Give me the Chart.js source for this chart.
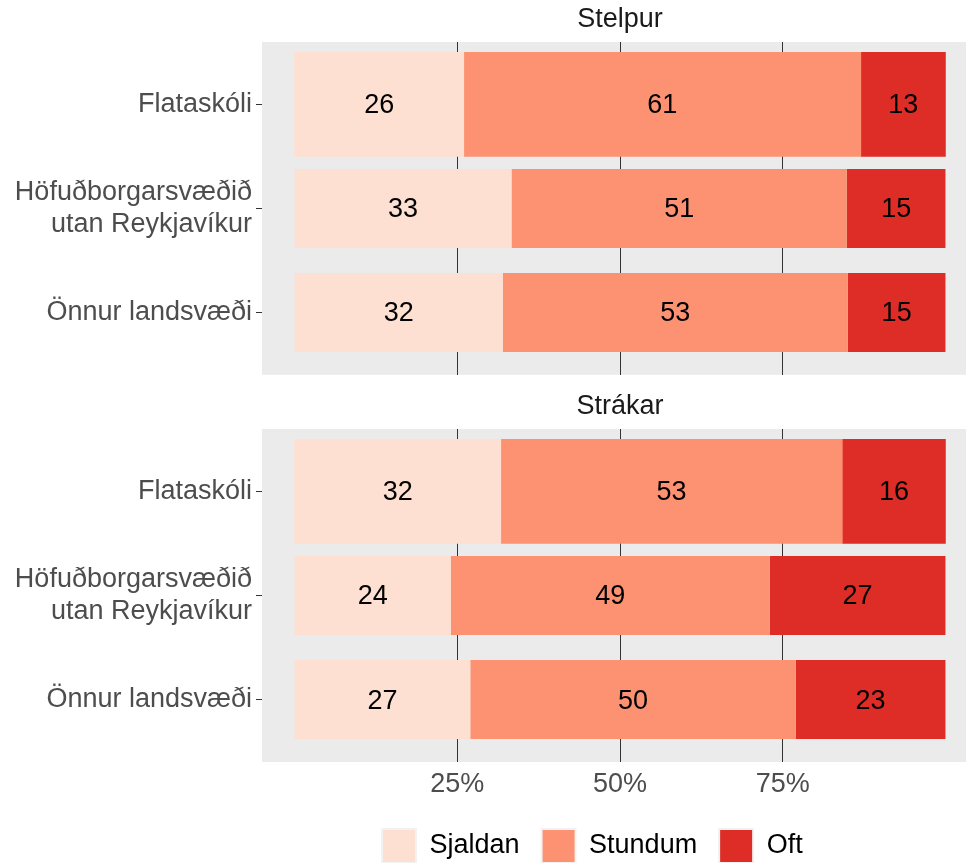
<!DOCTYPE html>
<html>
<head>
<meta charset="utf-8">
<script src="https://cdn.jsdelivr.net/npm/chart.js@4"></script>
<style>
html, body { margin: 0; padding: 0; background: #fff; overflow: hidden; }
#wrap { position: relative; width: 966px; height: 863px; overflow: hidden; }
.panel { position: absolute; left: 0; width: 978px; }
</style>
</head>
<body>
<div id="wrap">
  <!-- the y axis keeps ~20px below its last label, so this canvas runs a bit past the panel -->
  <div class="panel" style="top:0;height:395px"><canvas id="stelpur"></canvas></div>
  <div class="panel" style="top:375px;height:498px"><canvas id="strakar"></canvas></div>
</div>
<script>
const regions = ['Flataskóli', ['Höfuðborgarsvæðið', 'utan Reykjavíkur'], 'Önnur landsvæði'];
const answers = ['Sjaldan', 'Stundum', 'Oft'];
const answerColors = ['#FEE0D2', '#FC9272', '#DE2D26'];
const xTicks = [25, 50, 75];

const stelpurSjaldan = [26, 33, 32];
const stelpurStundum = [61, 51, 53];
const stelpurOft = [13, 15, 15];

const strakarSjaldan = [32, 24, 27];
const strakarStundum = [53, 49, 50];
const strakarOft = [16, 27, 23];

Chart.defaults.font.family = '"Liberation Sans", Arial, sans-serif';
Chart.defaults.font.size = 27;

function buildDatasets(series) {
    // bars are filled to 100%, so each row is divided by its own total
    const totals = regions.map((r, i) => series.reduce((s, a) => s + a[i], 0));
    const sets = [];
    series.forEach((vals, k) => {
        // Flataskóli row is drawn wider than the other two
        [[0], [1, 2]].forEach((rows, g) => {
            sets.push({
                label: answers[k],
                backgroundColor: answerColors[k],
                borderWidth: 0,
                barPercentage: g === 0 ? 1 : 0.76,
                categoryPercentage: 1,
                counts: rows.map(i => vals[i]),
                data: rows.map(i => ({ x: vals[i] / totals[i] * 100, y: i + 1 }))
            });
        });
    });
    return sets;
}

const panelPlugin = {
    id: 'panel',
    beforeDraw(chart, args, opts) {
        const ctx = chart.ctx, a = chart.chartArea;
        ctx.save();
        ctx.fillStyle = '#EBEBEB';
        ctx.fillRect(a.left, a.top, a.right - a.left, a.bottom - a.top);
        ctx.fillStyle = '#1A1A1A';
        ctx.font = '27px "Liberation Sans", Arial, sans-serif';
        ctx.textAlign = 'center';
        ctx.textBaseline = 'middle';
        ctx.fillText(opts.strip, (a.left + a.right) / 2, a.top - 22);
        ctx.restore();
    },
    afterLayout(chart) {
        const lg = chart.legend;
        if (lg && lg.options.display) {
            // push the legend row so it sits where ggplot put it
            lg.left = 2 * 382 - lg.options.labels.padding - lg.right + lg.lineWidths[0];
        }
    },
    afterDatasetsDraw(chart) {
        const ctx = chart.ctx;
        ctx.save();
        ctx.fillStyle = '#000';
        ctx.font = '27px "Liberation Sans", Arial, sans-serif';
        ctx.textAlign = 'center';
        ctx.textBaseline = 'middle';
        chart.data.datasets.forEach((ds, i) => {
            chart.getDatasetMeta(i).data.forEach((bar, j) => {
                const p = bar.getProps(['x', 'y', 'base'], true);
                ctx.fillText(String(ds.counts[j]), (p.x + p.base) / 2, p.y + 1.5);
            });
        });
        ctx.restore();
    }
};

function makeChart(id, strip, series, bottom) {
    return new Chart(document.getElementById(id), {
        type: 'bar',
        data: { datasets: buildDatasets(series) },
        options: {
            indexAxis: 'y',
            responsive: true,
            maintainAspectRatio: false,
            animation: false,
            layout: { padding: { top: bottom ? 54 : 42, left: 0, right: 0, bottom: 0 } },
            scales: {
                x: {
                    type: 'linear', stacked: true, min: -5, max: 105,
                    afterBuildTicks: s => { s.ticks = xTicks.map(v => ({ value: v })); },
                    afterFit: s => { s.height = bottom ? 45 : 0; },
                    grid: { color: '#333', lineWidth: 1, drawTicks: false },
                    border: { display: false },
                    ticks: { display: bottom, color: '#4D4D4D', padding: 6, maxRotation: 0, autoSkip: false,
                             callback: v => v + '%' }
                },
                y: {
                    type: 'linear', stacked: true, reverse: true, min: 0.4, max: 3.6,
                    offset: false,
                    afterBuildTicks: s => { s.ticks = regions.map((r, i) => ({ value: i + 1 })); },
                    afterFit: s => { s.width = 262; },
                    grid: { offset: false, drawOnChartArea: false, drawTicks: true, tickLength: 6, color: '#333' },
                    border: { display: false },
                    ticks: { color: '#4D4D4D', padding: 4, autoSkip: false, callback: v => regions[v - 1] }
                }
            },
            plugins: {
                tooltip: { enabled: false },
                panel: { strip: strip },
                legend: {
                    display: bottom,
                    position: 'bottom',
                    labels: {
                        boxWidth: 34, boxHeight: 34, padding: 22, color: '#1A1A1A',
                        generateLabels: () => answers.map((a, k) => ({
                            text: a, fillStyle: answerColors[k], strokeStyle: '#F2F2F2',
                            lineWidth: 2, hidden: false, datasetIndex: k * 2
                        }))
                    }
                }
            }
        },
        plugins: [panelPlugin]
    });
}

makeChart('stelpur', 'Stelpur', [stelpurSjaldan, stelpurStundum, stelpurOft], false);
makeChart('strakar', 'Strákar', [strakarSjaldan, strakarStundum, strakarOft], true);
</script>
</body>
</html>
